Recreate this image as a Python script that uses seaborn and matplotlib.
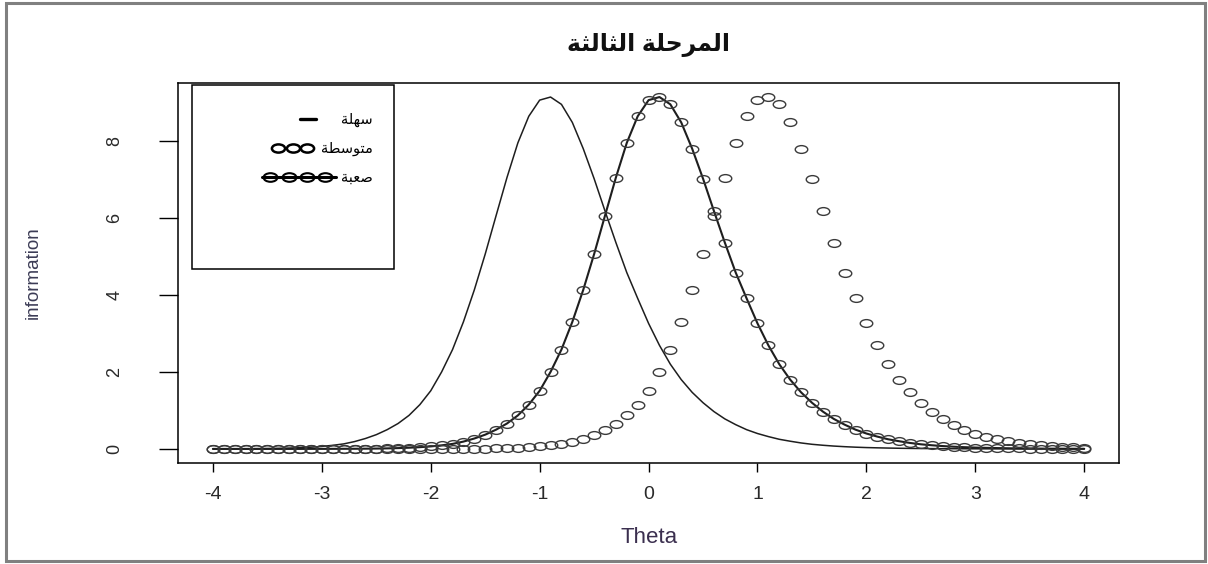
import matplotlib
matplotlib.use("Agg")
import matplotlib.pyplot as plt
import seaborn as sns
import pandas as pd
from matplotlib.path import Path
from matplotlib.transforms import Affine2D
from matplotlib.patches import Rectangle
from matplotlib.lines import Line2D
from matplotlib.offsetbox import AnchoredOffsetbox, DrawingArea, HPacker, VPacker, TextArea

# ---- data ----
theta = [-4.0, -3.9, -3.8, -3.7, -3.6, -3.5, -3.4, -3.3, -3.2, -3.1,
         -3.0, -2.9, -2.8, -2.7, -2.6, -2.5, -2.4, -2.3, -2.2, -2.1,
         -2.0, -1.9, -1.8, -1.7, -1.6, -1.5, -1.4, -1.3, -1.2, -1.1,
         -1.0, -0.9, -0.8, -0.7, -0.6, -0.5, -0.4, -0.3, -0.2, -0.1,
         0.0, 0.1, 0.2, 0.3, 0.4, 0.5, 0.6, 0.7, 0.8, 0.9,
         1.0, 1.1, 1.2, 1.3, 1.4, 1.5, 1.6, 1.7, 1.8, 1.9,
         2.0, 2.1, 2.2, 2.3, 2.4, 2.5, 2.6, 2.7, 2.8, 2.9,
         3.0, 3.1, 3.2, 3.3, 3.4, 3.5, 3.6, 3.7, 3.8, 3.9, 4.0]

# سهلة : solid line
easy = [0.001, 0.002, 0.003, 0.004, 0.006, 0.009, 0.014, 0.021, 0.031, 0.045,
        0.065, 0.093, 0.13, 0.19, 0.27, 0.37, 0.50, 0.66, 0.87, 1.15,
        1.51, 2.00, 2.58, 3.30, 4.13, 5.06, 6.06, 7.05, 7.95, 8.64,
        9.06, 9.14, 8.95, 8.48, 7.80, 7.02, 6.18, 5.36, 4.58, 3.91,
        3.26, 2.69, 2.20, 1.80, 1.47, 1.20, 0.97, 0.78, 0.63, 0.50,
        0.40, 0.32, 0.25, 0.20, 0.155, 0.12, 0.095, 0.074, 0.058, 0.045,
        0.035, 0.028, 0.022, 0.017, 0.013, 0.010, 0.008, 0.006, 0.005, 0.004,
        0.003, 0.002, 0.002, 0.002, 0.001, 0.001, 0.001, 0.001, 0.001, 0.000, 0.000]

# متوسطة : open circles
medium = [0.0, 0.0, 0.0, 0.0, 0.0, 0.0, 0.0, 0.0, 0.0, 0.0,
          0.0, 0.0, 0.0, 0.0, 0.0, 0.0, 0.0, 0.0, 0.0, 0.001,
          0.001, 0.002, 0.003, 0.004, 0.006, 0.009, 0.014, 0.021, 0.031, 0.045,
          0.065, 0.093, 0.13, 0.19, 0.27, 0.37, 0.50, 0.66, 0.87, 1.15,
          1.51, 2.00, 2.58, 3.30, 4.13, 5.06, 6.06, 7.05, 7.95, 8.64,
          9.06, 9.14, 8.95, 8.48, 7.80, 7.02, 6.18, 5.36, 4.58, 3.91,
          3.26, 2.69, 2.20, 1.80, 1.47, 1.20, 0.97, 0.78, 0.63, 0.50,
          0.40, 0.32, 0.25, 0.20, 0.155, 0.12, 0.095, 0.074, 0.058, 0.045, 0.035]

# صعبة : line with circles
hard = [0.0, 0.0, 0.0, 0.0, 0.0, 0.0, 0.0, 0.0, 0.0, 0.001,
        0.001, 0.002, 0.003, 0.004, 0.006, 0.009, 0.014, 0.021, 0.031, 0.045,
        0.065, 0.093, 0.13, 0.19, 0.27, 0.37, 0.50, 0.66, 0.87, 1.15,
        1.51, 2.00, 2.58, 3.30, 4.13, 5.06, 6.06, 7.05, 7.95, 8.64,
        9.06, 9.14, 8.95, 8.48, 7.80, 7.02, 6.18, 5.36, 4.58, 3.91,
        3.26, 2.69, 2.20, 1.80, 1.47, 1.20, 0.97, 0.78, 0.63, 0.50,
        0.40, 0.32, 0.25, 0.20, 0.155, 0.12, 0.095, 0.074, 0.058, 0.045,
        0.035, 0.028, 0.022, 0.017, 0.013, 0.010, 0.008, 0.006, 0.005, 0.004, 0.003]

x_ticks = [-4, -3, -2, -1, 0, 1, 2, 3, 4]
y_ticks = [0, 2, 4, 6, 8]

title_text = "المرحلة الثالثة"
label_easy = "سهلة"
label_medium = "متوسطة"
label_hard = "صعبة"

df = pd.DataFrame({"Theta": theta, "easy": easy, "medium": medium, "hard": hard})

# ---- arabic shaping (matplotlib has no bidi/joining) ----
FORMS = {
    'ا': ('\uFE8D', '\uFE8E', None, None),
    'ب': ('\uFE8F', '\uFE90', '\uFE91', '\uFE92'),
    'ة': ('\uFE93', '\uFE94', None, None),
    'ت': ('\uFE95', '\uFE96', '\uFE97', '\uFE98'),
    'ث': ('\uFE99', '\uFE9A', '\uFE9B', '\uFE9C'),
    'ح': ('\uFEA1', '\uFEA2', '\uFEA3', '\uFEA4'),
    'ر': ('\uFEAD', '\uFEAE', None, None),
    'س': ('\uFEB1', '\uFEB2', '\uFEB3', '\uFEB4'),
    'ص': ('\uFEB9', '\uFEBA', '\uFEBB', '\uFEBC'),
    'ط': ('\uFEC1', '\uFEC2', '\uFEC3', '\uFEC4'),
    'ع': ('\uFEC9', '\uFECA', '\uFECB', '\uFECC'),
    'ل': ('\uFEDD', '\uFEDE', '\uFEDF', '\uFEE0'),
    'م': ('\uFEE1', '\uFEE2', '\uFEE3', '\uFEE4'),
    'ه': ('\uFEE9', '\uFEEA', '\uFEEB', '\uFEEC'),
    'و': ('\uFEED', '\uFEEE', None, None),
}


def shape(text):
    out = []
    for i, ch in enumerate(text):
        if ch not in FORMS:
            out.append(ch)
            continue
        prev = text[i - 1] if i > 0 else ''
        nxt = text[i + 1] if i + 1 < len(text) else ''
        join_prev = prev in FORMS and FORMS[prev][2] is not None
        join_next = nxt in FORMS and FORMS[ch][2] is not None
        iso, fin, ini, med = FORMS[ch]
        if join_prev and join_next:
            out.append(med)
        elif join_prev:
            out.append(fin)
        elif join_next:
            out.append(ini)
        else:
            out.append(iso)
    return ''.join(reversed(out))


# ---- figure ----
sns.set_theme(style="white")
plt.rcParams['font.family'] = ['Liberation Sans', 'DejaVu Sans']

fig = plt.figure(figsize=(12.08, 5.64), dpi=100)
ax = fig.add_axes([0.1474, 0.1791, 0.7790, 0.6738])

# R-style open circle, a bit flattened like the reference
ring = Path.unit_circle().transformed(Affine2D().scale(1.0, 0.62))
ink = "#1e1e1e"
circ = "#3a3a3a"

sns.lineplot(data=df, x="Theta", y="easy", ax=ax, color=ink, linewidth=1.1)
sns.lineplot(data=df, x="Theta", y="hard", ax=ax, color=ink, linewidth=1.5,
             marker=ring, markersize=9, markerfacecolor="none",
             markeredgecolor=circ, markeredgewidth=1.0)
sns.lineplot(data=df, x="Theta", y="medium", ax=ax, linestyle="",
             marker=ring, markersize=9, markerfacecolor="none",
             markeredgecolor=circ, markeredgewidth=1.0)

# R default 4% axis padding
xpad = 0.04 * (max(theta) - min(theta))
ymax = max(max(easy), max(medium), max(hard))
ax.set_xlim(min(theta) - xpad, max(theta) + xpad)
ax.set_ylim(-0.04 * ymax, ymax * 1.04)

ax.set_xticks(x_ticks)
ax.set_yticks(y_ticks)
ax.set_xticklabels([str(t) for t in x_ticks], fontsize=14, color="#2a2a2a")
ax.set_yticklabels([str(t) for t in y_ticks], fontsize=13, color="#2a2a2a",
                   rotation=90, va="center")
ax.tick_params(axis="x", bottom=True, direction="out", length=6.5, width=1.0,
               color="black", pad=10)
ax.tick_params(axis="y", left=True, direction="out", length=13.5, width=1.0,
               color="black", pad=26)
for s in ax.spines.values():
    s.set_color("black")
    s.set_linewidth(1.1)
ax.grid(False)

ax.set_xlabel("Theta", fontsize=16, color="#3b2f4f")
ax.set_ylabel("information", fontsize=13.5, color="#3b3b55")
ax.xaxis.set_label_coords(0.5, -0.168)
ax.yaxis.set_label_coords(-0.145, 0.5)
ax.set_title(shape(title_text), fontsize=17, fontweight="bold", pad=23,
             color="#111111")

# legend: big framed box with right-aligned rows
ax.add_patch(Rectangle((0.0149, 0.5105), 0.2146, 0.4842, transform=ax.transAxes,
                       fill=False, edgecolor="black", linewidth=1.1, zorder=5))

da1 = DrawingArea(26, 12)
da1.add_artist(Line2D([0, 12], [6, 6], color="black", linewidth=2.4))
da2 = DrawingArea(32, 12)
da2.add_artist(Line2D([5, 15.5, 26], [6, 6, 6], linestyle="", marker=ring,
                      markersize=9.5, markerfacecolor="none",
                      markeredgecolor="black", markeredgewidth=1.8))
da3 = DrawingArea(53, 12)
da3.add_artist(Line2D([0, 53], [6, 6], color="black", linewidth=2.2))
da3.add_artist(Line2D([6, 19, 32, 45], [6, 6, 6, 6], linestyle="", marker=ring,
                      markersize=10, markerfacecolor="none",
                      markeredgecolor="black", markeredgewidth=1.5))

rows = []
for da, lab in [(da1, label_easy), (da2, label_medium), (da3, label_hard)]:
    txt = TextArea(shape(lab), textprops=dict(fontsize=10.5, color="black",
                                              family="DejaVu Sans"))
    rows.append(HPacker(children=[da, txt], align="center", pad=0, sep=4))
vbox = VPacker(children=rows, align="right", pad=0, sep=8.8)
anch = AnchoredOffsetbox(loc="upper right", child=vbox, pad=0, borderpad=0,
                         frameon=False, bbox_to_anchor=(0.2072, 0.927),
                         bbox_transform=ax.transAxes)
ax.add_artist(anch)

# outer grey frame of the picture
fig.patches.append(Rectangle((0.005, 0.0053), 0.9925, 0.9894, transform=fig.transFigure,
                             fill=False, edgecolor="#808080", linewidth=2.2))

fig.savefig("out.png", dpi=100)
